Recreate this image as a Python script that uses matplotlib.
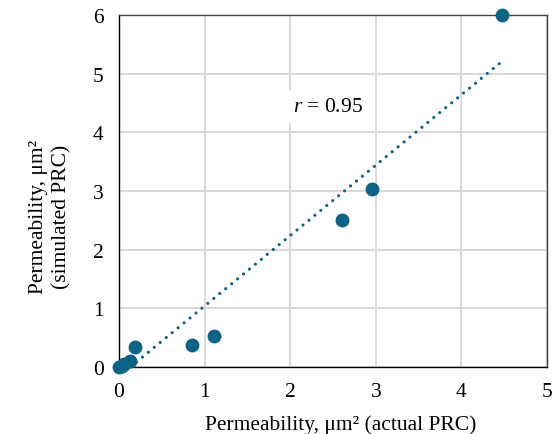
import matplotlib
matplotlib.use("Agg")
import matplotlib.pyplot as plt
import numpy as np

plt.rcParams['font.family'] = ['Liberation Serif', 'DejaVu Serif']
plt.rcParams['mathtext.fontset'] = 'custom'
plt.rcParams['mathtext.rm'] = 'Liberation Serif'
plt.rcParams['mathtext.it'] = 'Liberation Serif:italic'

actual = [0.0, 0.03, 0.06, 0.13, 0.19, 0.85, 1.11, 2.61, 2.96, 4.47]
simulated = [0.0, 0.02, 0.05, 0.10, 0.34, 0.38, 0.52, 2.50, 3.04, 6.00]
trend_slope = 1.20
trend_intercept = -0.16
x_ticks = [0, 1, 2, 3, 4, 5]
y_ticks = [0, 1, 2, 3, 4, 5, 6]

color = '#0b6386'

fig = plt.figure(figsize=(5.54, 4.35), dpi=100)
ax = fig.add_axes([119/554, 1 - 368/435, (547-119)/554, (368-16)/435])

xs = np.linspace(min(actual), max(actual), 200)
ys = trend_slope * xs + trend_intercept
mask = ys >= 0
ax.plot(xs[mask], ys[mask], linestyle=(0, (0.01, 2.4)), color=color, lw=2.3, zorder=2,
        dash_capstyle='round', solid_capstyle='round')
ax.scatter(actual, simulated, s=100, color=color, zorder=3, clip_on=False, linewidths=0)

ax.set_xlim(0, 5)
ax.set_ylim(0, 6)
ax.set_xticks(x_ticks)
ax.set_yticks(y_ticks)
ax.grid(True, color='#d9d9d9', lw=1.4)
ax.set_axisbelow(True)
for s in ['top', 'right']:
    ax.spines[s].set_color('#404040')
    ax.spines[s].set_linewidth(1.0)
for s in ['left', 'bottom']:
    ax.spines[s].set_color('black')
    ax.spines[s].set_linewidth(1.0)
ax.tick_params(length=0, labelsize=15.5)
ax.tick_params(axis='x', pad=11)
ax.tick_params(axis='y', pad=11)

ax.set_xlabel('Permeability, μm² (actual PRC)', fontsize=15.5)
ax.xaxis.set_label_coords(0.519, -0.133)
ax.set_ylabel('Permeability, μm²\n(simulated PRC)', fontsize=15.5, linespacing=1.3)
ax.yaxis.set_label_coords(-0.110, 0.43)

ax.text(2.03, 4.44, '$r$ = 0.95', fontsize=15.5, va='center', ha='left',
        bbox=dict(facecolor='white', edgecolor='none', pad=5), zorder=2.5)

fig.savefig('out.png', dpi=100)
